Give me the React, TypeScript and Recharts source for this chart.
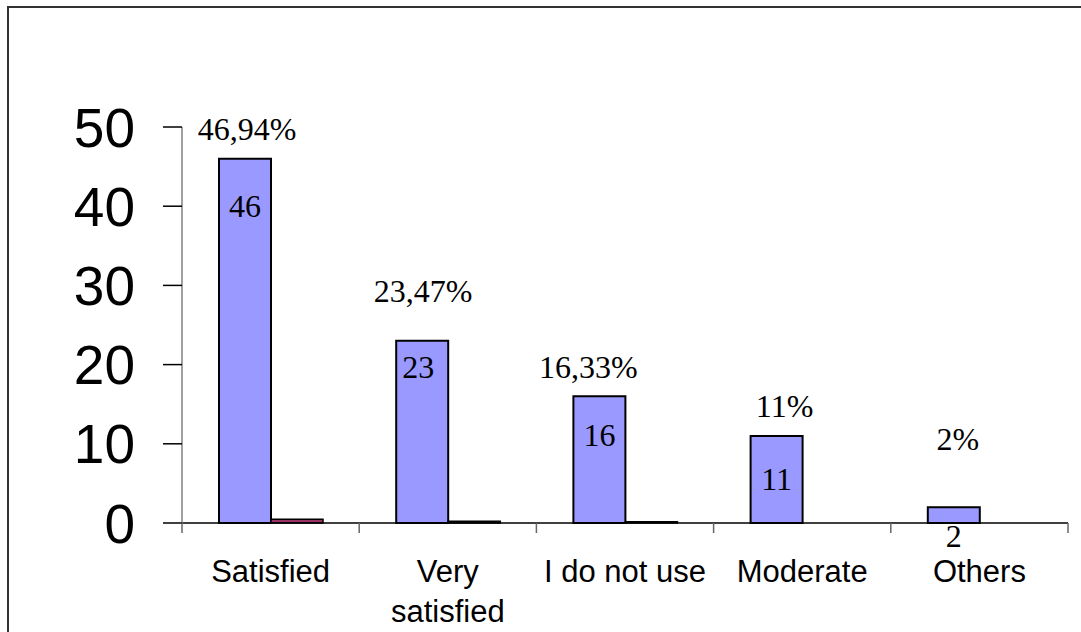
import { Bar, BarChart, LabelList, XAxis, YAxis } from "recharts";

const categories = ["Satisfied", "Very satisfied", "I do not use", "Moderate", "Others"];
const counts = [46, 23, 16, 11, 2];
const shares = [46.94, 23.47, 16.33, 11, 2];
const shareBars = [0.4694, 0.2347, 0.1633, null, null];
const yTicks = [0, 10, 20, 30, 40, 50];

const W = 1081;
const H = 632;
const M = { top: 127, right: 13, bottom: 0, left: 0 };
const Y_AXIS_W = 182;
const X_AXIS_H = 109;
const PLOT_W = W - M.left - M.right - Y_AXIS_W;
const AXIS_Y = H - X_AXIS_H;
const BAND = PLOT_W / categories.length;

const SANS = "'Liberation Sans', Arial, sans-serif";
const SERIF = "'Liberation Serif', 'Times New Roman', serif";
const CAT_FONT = 31;

// hand-placed label offsets, as in the original sheet: [pct baseline above bar top, count baseline below bar top, pct dx, count dx]
const labelNudge = [
  [-19, 58, 2, 0],
  [-39, 37, 1, -4],
  [-18, 50, -11, 0],
  [-19, 54, 8, 0],
  [-57, 40, 4, 0],
];

const rows = categories.map((name, i) => ({
  name,
  count: counts[i],
  share: shareBars[i],
}));

const fmtPct = (v: number) => `${String(v).replace(".", ",")}%`;

let measureCtx: CanvasRenderingContext2D | null = null;
function textWidth(s: string) {
  if (!measureCtx) {
    measureCtx = document.createElement("canvas").getContext("2d");
  }
  if (!measureCtx) return s.length * CAT_FONT * 0.5;
  measureCtx.font = `${CAT_FONT}px ${SANS}`;
  return measureCtx.measureText(s).width;
}

// greedy word wrap inside one category band
function wrap(label: string, maxW: number) {
  const lines: string[] = [];
  let cur = "";
  for (const w of label.split(" ")) {
    const next = cur ? `${cur} ${w}` : w;
    if (cur && textWidth(next) > maxW) {
      lines.push(cur);
      cur = w;
    } else {
      cur = next;
    }
  }
  if (cur) lines.push(cur);
  return lines;
}

function CategoryTick(props: any) {
  const { x, payload, index } = props;
  const left = x - BAND / 2;
  const right = x + BAND / 2;
  const lines = wrap(payload.value, BAND - 4);
  return (
    <g>
      <line x1={left} y1={AXIS_Y} x2={left} y2={AXIS_Y + 10} stroke="#666" strokeWidth={1.5} />
      {index === categories.length - 1 && (
        <line x1={right} y1={AXIS_Y} x2={right} y2={AXIS_Y + 10} stroke="#666" strokeWidth={1.5} />
      )}
      <text x={x} y={582} textAnchor="middle" fontSize={CAT_FONT} fontFamily={SANS} fill="#000">
        {lines.map((l, i) => (
          <tspan key={i} x={x} dy={i === 0 ? 0 : 40}>
            {l}
          </tspan>
        ))}
      </text>
    </g>
  );
}

function BarLabels(props: any) {
  const { x, y, width, index } = props;
  const [pDy, cDy, pDx, cDx] = labelNudge[index];
  const cx = x + width / 2;
  return (
    <g fontFamily={SERIF} fontSize={32} fill="#000">
      <text x={cx + pDx} y={y + pDy} textAnchor="middle">
        {fmtPct(shares[index])}
      </text>
      <text x={cx + cDx} y={y + cDy} textAnchor="middle">
        {counts[index]}
      </text>
    </g>
  );
}

export default function App() {
  return (
    <div
      style={{
        position: "absolute",
        left: 0,
        top: 0,
        width: W,
        height: H,
        overflow: "hidden",
        background: "#fff",
      }}
    >
      <div
        style={{
          position: "absolute",
          left: 7,
          top: 6,
          width: W + 40,
          height: H + 40,
          border: "2px solid #333",
        }}
      />
      <BarChart
        width={W}
        height={H}
        data={rows}
        margin={M}
        barCategoryGap={37}
        barGap={0}
      >
        <XAxis
          dataKey="name"
          height={X_AXIS_H}
          tickLine={false}
          axisLine={{ stroke: "#000", strokeWidth: 1.5 }}
          tick={<CategoryTick />}
          interval={0}
        />
        <YAxis
          width={Y_AXIS_W}
          domain={[0, 50]}
          ticks={yTicks}
          interval={0}
          tickSize={19}
          tickMargin={28}
          axisLine={{ stroke: "#808080", strokeWidth: 1.5 }}
          tickLine={{ stroke: "#000", strokeWidth: 1.5 }}
          tick={{ fontSize: 55, fontFamily: SANS, fill: "#000" }}
        />
        <Bar dataKey="count" fill="#9999FF" stroke="#000" strokeWidth={2} isAnimationActive={false}>
          <LabelList dataKey="count" content={<BarLabels />} />
        </Bar>
        <Bar dataKey="share" fill="#993366" stroke="#000" strokeWidth={1.5} isAnimationActive={false} />
      </BarChart>
    </div>
  );
}
